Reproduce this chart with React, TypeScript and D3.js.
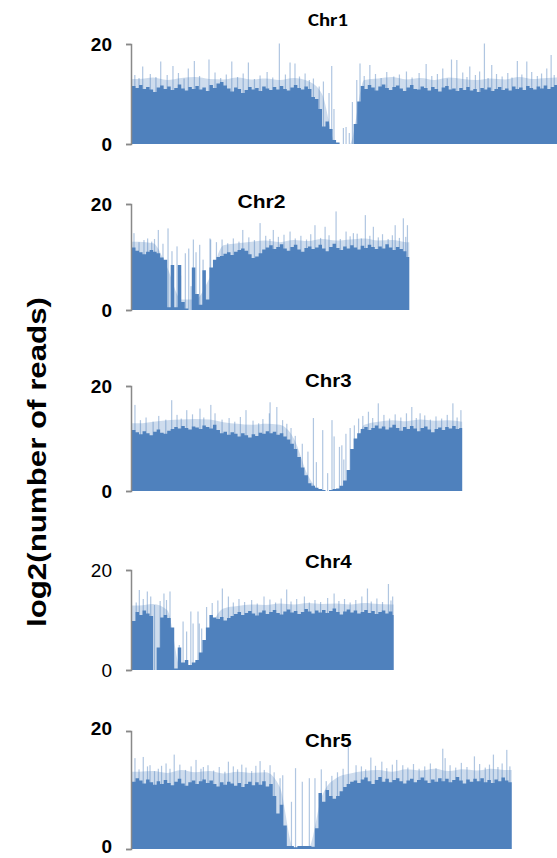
import React, { useEffect, useRef } from "react";
import * as d3 from "d3";

// bin size of the read-count profile, in Mb
const binMb = 0.25;
// bin size of the light upper envelope, in Mb
const envMb = 1;
const chromNames = ["Chr1", "Chr2", "Chr3", "Chr4", "Chr5"];
const chromLengths = [30.43, 19.7, 23.46, 18.59, 26.98];
const yTicks = [0, 20];
const yTitle = "log2(number of reads)";

// log2(reads) per 0.25 Mb bin
const chr1Reads = [
  11.6, 11.2, 11.8, 11.0, 11.4, 10.9, 10.4, 11.3, 11.7, 11.0, 11.5, 10.8, 11.2, 11.9, 11.1, 10.7, 11.4, 11.0, 11.6, 10.9,
  11.3, 10.6, 11.8, 11.2, 12.1, 12.4, 11.7, 11.1, 10.5, 11.3, 11.0, 10.2, 10.8, 11.4, 10.9, 11.2, 10.6, 11.5, 11.1, 10.8,
  11.4, 10.9, 11.6, 11.0, 10.7, 11.3, 11.8, 11.2, 10.9, 11.5, 11.0,
  9.4, 9.0, 7.0, 3.5, 4.5, 3.0, 0.8, 0.3, 0, 0, 0, 0, 4.0, 8.5,
  11.6, 11.0, 11.8, 11.3, 10.7, 11.5, 11.9, 11.2, 10.8, 11.4, 11.7, 11.1, 10.6, 11.3, 11.8, 11.0, 10.9, 11.5, 11.2, 10.7,
  11.4, 11.0, 10.5, 11.3, 11.6, 10.9, 11.1, 10.6, 11.2, 10.8, 11.4, 10.7, 11.0, 10.4, 11.2, 10.9, 11.3, 10.6, 11.0, 11.4,
  10.8, 11.1, 10.7, 11.5, 11.0, 11.3, 10.8, 11.6, 11.2, 10.9, 11.5, 11.1, 11.7, 11.0, 11.4, 11.8, 11.2,
];
const chr2Reads = [
  11.8, 11.2, 10.9, 10.5, 11.0, 11.3, 11.0, 10.7, 9.9, 9.5, 0.5, 8.5, 0.5, 8.5, 1.5, 0.3, 0, 8.0, 3.0, 1.0,
  7.5, 2.0, 8.0, 9.5, 10.0,
  10.2, 10.6, 10.9, 10.4, 11.0, 11.3, 11.6, 11.2, 10.5, 9.8, 10.1, 10.7, 11.4,
  11.8, 12.2, 11.5, 11.9, 12.4, 11.6, 11.2, 11.9, 12.3, 11.4, 11.0, 11.7, 12.0,
  11.5, 11.8, 12.3, 11.6, 11.1, 11.9, 12.5, 11.7, 11.3, 12.0, 11.6, 12.2, 11.8, 11.4, 12.1,
  11.7, 12.3, 11.9, 11.5, 12.0, 11.6, 12.4, 11.8, 11.3, 11.9, 11.5, 11.1, 10.0,
];
const chr3Reads = [
  11.6, 11.2, 10.8, 11.4, 11.0, 10.6, 11.3, 11.7, 11.1, 10.9, 11.5, 11.8,
  12.2, 11.9, 12.4, 12.0, 11.7, 12.3, 12.1, 11.8, 12.5, 12.2, 11.9, 12.6,
  11.6, 11.0, 11.3, 10.7, 11.2, 10.9, 10.4, 11.0, 10.6, 10.2, 10.8, 10.5, 11.1, 10.9, 11.4, 11.0,
  11.3, 10.7, 11.0, 10.4, 9.8, 9.0,
  8.0, 6.5, 4.5, 3.0, 1.5, 1.0, 0.6, 0.4, 0.2, 0, 0.2, 0.4, 0.5, 1.0, 2.0, 4.0, 8.0, 10.0, 11.0,
  11.8, 12.2, 11.6, 12.0, 12.5, 11.9, 12.3, 11.7, 12.1, 12.6, 12.0, 11.5, 12.2, 11.8, 12.4, 11.9, 11.4, 12.0, 12.3, 11.7,
  11.2, 11.8, 12.1, 11.6, 12.2, 11.9, 12.4, 11.8, 12.0,
];
const chr4Reads = [
  9.8, 11.6, 11.0, 11.9, 11.3, 10.8, 0, 4.5, 10.5, 11.0, 10.4, 8.5, 0.3, 4.5, 1.5, 2.0, 1.0, 1.5, 2.0, 3.5,
  6.0, 8.5, 11.0, 10.5,
  10.2, 10.6, 9.9, 10.4, 10.8, 11.2, 11.6, 11.0, 11.4, 11.8, 11.3, 10.9, 11.5, 11.9, 11.2, 11.6, 12.0, 11.4, 11.1, 11.7,
  12.1, 11.5, 11.8, 11.2, 11.6, 12.2, 11.7, 11.3, 11.9, 11.5, 12.0, 11.4, 11.8, 12.3, 11.6, 11.1, 11.7, 12.1, 11.5, 11.9,
  11.3, 11.6, 12.0, 11.4, 11.8, 11.2, 11.6, 11.9, 11.3, 11.7, 11.0,
];
const chr5Reads = [
  11.4, 12.0, 11.6, 11.1, 11.8, 11.3, 10.9, 11.5, 11.0, 11.7, 11.2, 10.8, 11.4, 11.9, 11.1, 10.7, 11.3, 11.6, 11.0, 11.5,
  11.8, 11.2, 11.6, 11.0, 10.6, 11.3, 10.9, 11.4, 11.1, 10.7, 11.2, 10.5, 11.0, 11.4, 10.8, 11.3, 10.9, 11.5, 10.6, 11.0,
  9.0, 6.0, 7.5, 4.0, 0.5, 0.5, 0.3, 0.5, 0.5, 0.5, 0.5, 0.4, 3.5, 9.5, 8.0, 10.0, 9.0, 8.5, 9.0, 9.8, 10.5, 11.0, 11.4,
  11.6, 11.2, 11.8, 12.1, 11.5, 11.0, 11.7, 12.2, 11.4, 11.9, 11.3, 11.7, 12.0, 11.5, 11.1, 11.6, 11.9, 11.3, 11.7, 12.1,
  11.6, 11.2, 11.8, 11.4, 12.0, 11.5, 11.9, 11.3, 11.7, 12.2, 11.6, 11.1, 11.8, 11.4, 11.9, 11.5, 12.0, 11.3, 11.7, 11.2,
  11.8, 11.5, 12.1, 11.6, 11.3,
];

// upper edge of the light fringe per 1 Mb bin
const chr1Upper = [
  13.0, 13.3, 12.8, 13.2, 13.4, 13.0, 12.9, 13.3, 12.9, 13.1, 12.8, 13.2, 12.6, 10.0, 0, 0,
  12.8, 13.1, 13.4, 12.9, 13.2, 12.8, 13.3, 13.0, 12.8, 13.1, 12.9, 13.4, 13.0, 13.2, 13.3,
];
const chr2Upper = [12.9, 12.6, 8.0, 2.0, 2.0, 6.0, 12.2, 12.6, 12.9, 13.1, 12.8, 13.2, 13.0, 13.4, 13.1, 13.3, 13.5, 13.1, 13.2, 12.8];
const chr3Upper = [
  12.9, 13.2, 13.5, 13.6, 13.7, 13.6, 13.1, 12.8, 12.6, 12.8, 12.6, 10.0, 3.0, 0, 0, 3.0,
  12.6, 13.2, 13.5, 13.3, 13.6, 13.4, 13.5, 13.2,
];
const chr4Upper = [12.9, 13.2, 12.0, 0, 0, 8.0, 12.3, 12.8, 13.1, 13.0, 13.3, 13.1, 13.4, 13.2, 13.3, 13.1, 13.4, 13.2, 13.1];
const chr5Upper = [
  13.1, 13.2, 12.9, 13.4, 13.0, 13.2, 12.8, 13.1, 12.9, 13.0, 10.5, 0, 0, 9.0, 12.0, 12.8,
  13.2, 13.4, 13.1, 13.5, 13.3, 13.6, 13.2, 13.5, 13.3, 13.6, 13.4,
];

// single-position peaks above the bins: [Mb, log2 reads]
const chr1Spikes = [
  [0.2, 13.8], [0.76, 15.5], [2.04, 16.5], [2.91, 15.6], [4.0, 15.1], [4.43, 16.6], [5.47, 16.9], [7.09, 16.5],
  [8.27, 16.3], [10.47, 20.1], [11.23, 16.3], [11.58, 16.1], [12.89, 13.1], [14.19, 15.6], [15.02, 3.2], [15.21, 3.4],
  [15.44, 2.2], [15.66, 8.4], [15.97, 12.8], [16.2, 16.1], [16.9, 15.8], [19.5, 14.5], [20.9, 16], [22.08, 15.1],
  [22.7, 16.9], [23.08, 16.8], [24.0, 15.5], [25.04, 20.1], [25.56, 15.8], [27.38, 16.6], [28.05, 16.5], [29.47, 15.1],
  [29.78, 17.8], [0.5, 13.2], [1.3, 14.0], [1.7, 13.4], [2.5, 13.8], [3.3, 14.2], [3.7, 13.1], [4.8, 13.6],
  [5.9, 14.3], [6.3, 13.2], [6.7, 13.9], [7.5, 13.4], [7.9, 14.1], [8.7, 13.0], [9.1, 13.7], [9.6, 14.4],
  [10.0, 13.3], [10.9, 13.9], [11.9, 13.5], [12.3, 14.1], [12.6, 12.8], [13.3, 11.5], [13.6, 12.5], [14.0, 10.2],
  [14.35, 7.0], [16.5, 13.6], [17.3, 14.0], [17.7, 13.2], [18.1, 14.4], [18.6, 13.5], [19.0, 13.9], [19.9, 13.3],
  [20.4, 14.2], [21.3, 13.6], [21.7, 14.0], [22.4, 13.1], [23.5, 14.3], [23.8, 13.4], [24.4, 13.8], [24.7, 14.5],
  [25.3, 13.2], [25.9, 14.0], [26.3, 13.5], [26.7, 14.2], [27.0, 13.3], [27.7, 13.9], [28.4, 14.4], [28.8, 13.6],
  [29.1, 14.1], [30.0, 13.8], [30.3, 14.5],
];
const chr2Spikes = [
  [0.14, 14.5], [1.11, 13.5], [1.87, 15.1], [2.56, 15.4], [2.84, 11.1], [3.79, 10.7], [4.03, 11.6], [4.36, 13.3],
  [4.55, 10.9], [4.81, 12.3], [5.54, 13.5], [5.59, 13.3], [7.87, 15.1], [9.1, 16.4], [10.04, 15.1], [11.23, 14.8],
  [13.0, 16.0], [13.72, 15.7], [14.5, 18.6], [15.21, 14.8], [15.73, 14.5], [16.58, 17.9], [17.15, 15.7], [18.7, 16.0],
  [19.28, 17.3], [19.57, 16.0], [0.5, 12.8], [0.85, 13.2], [1.4, 12.9], [1.6, 13.4], [2.2, 12.5], [3.2, 12.0],
  [3.45, 6.5], [4.2, 4.5], [5.05, 9.5],
  [6.0, 12.8], [6.4, 13.3], [6.8, 12.6], [7.2, 13.5], [7.6, 12.9], [8.3, 13.7], [8.7, 13.2], [9.5, 14.0],
  [9.8, 13.4], [10.4, 13.8], [10.8, 14.2], [11.6, 13.5], [12.0, 14.0], [12.4, 13.3], [12.7, 14.3], [13.4, 13.6],
  [14.0, 14.1], [14.8, 13.4], [15.5, 13.9], [16.0, 14.4], [16.3, 13.5], [16.9, 14.0], [17.5, 13.7], [17.8, 14.3],
  [18.2, 13.4], [18.5, 14.1], [19.0, 13.6], [19.45, 13.8],
];
const chr3Spikes = [
  [0.21, 16.4], [2.82, 17.3], [3.89, 15.4], [4.83, 15.7], [5.6, 16.4], [8.1, 15.4], [9.76, 14.8], [9.81, 16.9],
  [10.29, 16.0], [12.89, 13.9], [13.55, 11.6], [14.21, 13.5], [14.36, 10.4], [14.74, 8.4], [14.91, 8.7], [15.2, 10.9],
  [15.8, 12.5], [16.8, 15.1], [17.5, 16.7], [19.88, 16.0], [20.47, 14.8], [22.8, 16.7], [23.37, 15.4],
  [0.6, 13.5], [1.0, 14.0], [1.5, 13.2], [1.9, 14.3], [2.4, 13.6], [3.2, 14.5], [3.5, 13.8], [4.3, 14.6],
  [5.1, 14.0], [5.9, 14.8], [6.4, 13.6], [6.9, 13.9], [7.3, 13.2], [7.7, 14.1], [8.6, 13.4], [9.0, 12.9],
  [9.3, 13.7], [10.7, 13.5], [11.0, 12.8], [11.3, 12.0], [11.6, 10.5], [12.1, 9.0], [12.5, 7.5], [13.1, 5.5],
  [13.9, 3.4], [15.5, 12.0], [15.05, 6.0],
  [16.1, 13.8], [16.4, 14.3], [17.1, 13.9], [17.9, 14.5], [18.3, 13.8], [18.7, 14.6], [19.1, 14.0], [19.5, 14.8],
  [20.2, 13.9], [20.8, 14.4], [21.2, 13.6], [21.6, 14.2], [22.0, 13.8], [22.4, 14.5], [23.1, 14.0],
];
const chr4Spikes = [
  [0.52, 16.0], [1.09, 15.7], [1.33, 14.7], [2.27, 15.3], [2.7, 15.7], [3.36, 5.0], [3.63, 9.7], [3.88, 7.7],
  [4.18, 11.7], [4.34, 9.3], [4.69, 11.7], [4.78, 9.3], [4.95, 8.3], [6.42, 16.3], [6.85, 14.7], [9.38, 14.7],
  [10.99, 16.1], [12.25, 14.7], [14.36, 15.3], [16.33, 14.7], [16.73, 16.3], [18.22, 17.2], [18.52, 14.7],
  [0.3, 13.5], [0.8, 14.2], [1.6, 13.0], [2.0, 13.8], [2.45, 14.0], [5.3, 12.6], [5.7, 13.4], [6.1, 13.9],
  [7.2, 13.5], [7.6, 14.2], [8.0, 13.6], [8.5, 14.0], [8.9, 13.3], [9.8, 14.1], [10.2, 13.5], [10.6, 14.3],
  [11.3, 13.7], [11.7, 14.2], [12.6, 13.5], [13.0, 14.0], [13.4, 13.6], [13.9, 14.4], [14.7, 13.8], [15.1, 14.2],
  [15.5, 13.5], [15.9, 14.0], [17.0, 13.7], [17.4, 14.3], [17.8, 13.6], [18.4, 13.9],
];
const chr5Spikes = [
  [0.21, 15.4], [0.8, 15.6], [1.28, 14.2], [1.87, 13.6], [2.42, 14.5], [3.0, 16.0], [4.55, 15.1], [5.07, 13.9],
  [6.85, 14.8], [7.8, 14.3], [9.1, 14.9], [9.81, 14.2], [10.52, 12.0], [10.71, 12.5], [11.33, 8.0], [11.62, 13.7],
  [12.1, 11.4], [12.6, 12.0], [13.0, 12.0], [13.45, 13.5], [15.37, 17.3], [15.92, 14.2], [16.97, 15.5], [17.75, 14.8],
  [18.81, 15.1], [19.24, 14.2], [22.08, 17.0], [22.25, 15.4], [24.33, 15.7], [25.68, 16.0], [26.63, 16.8],
  [0.5, 13.5], [1.1, 14.0], [1.6, 13.2], [2.1, 14.1], [2.7, 13.6], [3.4, 14.3], [3.8, 13.4], [4.2, 14.0],
  [4.9, 13.6], [5.4, 14.2], [5.8, 13.3], [6.2, 13.9], [6.6, 13.1], [7.2, 14.0], [7.5, 13.5], [8.1, 13.8],
  [8.5, 13.2], [8.8, 14.1], [9.4, 13.4], [10.1, 13.0], [13.8, 11.5], [14.2, 12.4], [14.6, 13.0], [15.0, 13.6],
  [16.3, 14.0], [16.6, 13.5], [17.3, 14.1], [18.1, 13.7], [18.5, 14.3], [19.6, 13.8], [20.0, 14.4], [20.4, 13.6],
  [20.8, 14.0], [21.2, 14.5], [21.6, 13.7], [22.6, 14.2], [23.0, 13.8], [23.4, 14.6], [23.8, 13.9], [24.7, 14.4],
  [25.1, 13.8], [25.4, 14.3], [26.0, 13.9], [26.3, 14.5], [26.85, 14.0],
];

const reads = [chr1Reads, chr2Reads, chr3Reads, chr4Reads, chr5Reads];
const uppers = [chr1Upper, chr2Upper, chr3Upper, chr4Upper, chr5Upper];
const spikes = [chr1Spikes, chr2Spikes, chr3Spikes, chr4Spikes, chr5Spikes];

// layout of each panel (pixel positions)
const panels = [
  { y0: 144, y20: 44, titleX: 328, titleY: 26, titleW: 40, boldTicks: true, labelDy: "0.32em", titleFont: "Carlito, Lato, sans-serif" },
  { y0: 310, y20: 204, titleX: 261.5, titleY: 208, titleW: 48, boldTicks: true, labelDy: "0.32em", titleFont: "'Liberation Sans', Arial, sans-serif" },
  { y0: 491, y20: 386, titleX: 328.3, titleY: 387, titleW: 46.5, boldTicks: true, labelDy: "0.32em", titleFont: "'Liberation Sans', Arial, sans-serif" },
  { y0: 670, y20: 570, titleX: 328.3, titleY: 567.5, titleW: 46.5, boldTicks: false, labelDy: "0.32em", titleFont: "'Liberation Sans', Arial, sans-serif" },
  { y0: 849, y20: 731, titleX: 328.3, titleY: 746.5, titleW: 46.5, boldTicks: true, labelDy: "0.2em", titleFont: "'Liberation Sans', Arial, sans-serif" },
];

const W = 557;
const H = 858;
const barColor = "#4f81bd";
const axisColor = "#898989";
const font = "'Liberation Sans', Arial, Helvetica, sans-serif";

type Pt = { p: number; v: number };

export default function App() {
  const ref = useRef<SVGSVGElement>(null);

  useEffect(() => {
    const svg = d3.select(ref.current);
    svg.selectAll("*").remove();

    // same Mb -> px scale for all chromosomes
    const x = d3.scaleLinear().domain([0, 27.0]).range([132, 512]);

    panels.forEach((p, k) => {
      const len = chromLengths[k];
      const y = d3.scaleLinear().domain([0, 20]).range([p.y0, p.y20]);
      const g = svg.append("g");

      // light fringe
      const up = uppers[k];
      const upPts: Pt[] = [{ p: 0, v: up[0] }]
        .concat(up.map((v, i) => ({ p: Math.min((i + 0.5) * envMb, len), v })))
        .concat([{ p: len, v: up[up.length - 1] }]);
      const envGen = d3
        .area<Pt>()
        .x((d) => x(d.p))
        .y0(y(0))
        .y1((d) => y(d.v))
        .curve(d3.curveMonotoneX);
      g.append("path").attr("d", envGen(upPts)).attr("fill", barColor).attr("fill-opacity", 0.28);

      g.selectAll("rect.spike")
        .data(spikes[k])
        .join("rect")
        .attr("class", "spike")
        .attr("x", (d) => x(d[0]) - 0.6)
        .attr("width", 1.2)
        .attr("y", (d) => y(d[1]))
        .attr("height", (d) => y(0) - y(d[1]))
        .attr("fill", barColor)
        .attr("fill-opacity", 0.45);

      const pts: Pt[] = reads[k].map((v, i) => ({ p: i * binMb, v }));
      pts.push({ p: len, v: reads[k][reads[k].length - 1] });
      const areaGen = d3
        .area<Pt>()
        .x((d) => x(Math.min(d.p, len)))
        .y0(y(0))
        .y1((d) => y(d.v))
        .curve(d3.curveStepAfter);
      g.append("path").attr("d", areaGen(pts)).attr("fill", barColor);

      const yAxis = d3.axisLeft(y).tickValues(yTicks).tickSize(5).tickSizeOuter(5).tickPadding(14).tickFormat(d3.format("d"));
      const ax = g.append("g").attr("transform", "translate(131,0)").call(yAxis);
      ax.selectAll("path, line").attr("stroke", axisColor).attr("stroke-width", 1.5);
      ax.selectAll("text")
        .attr("font-family", font)
        .attr("font-size", 19)
        .attr("dy", p.labelDy)
        .attr("font-weight", p.boldTicks ? 700 : 400)
        .attr("fill", "#000");

      g.append("text")
        .attr("x", p.titleX)
        .attr("y", p.titleY)
        .attr("text-anchor", "middle")
        .attr("font-family", p.titleFont)
        .attr("font-weight", 700)
        .attr("font-size", 19)
        .attr("textLength", p.titleW)
        .attr("lengthAdjust", "spacingAndGlyphs")
        .text(chromNames[k]);
    });

    svg
      .append("text")
      .attr("transform", "translate(46,462) rotate(-90)")
      .attr("text-anchor", "middle")
      .attr("font-family", font)
      .attr("font-weight", 700)
      .attr("font-size", 25)
      .attr("textLength", 330)
      .attr("lengthAdjust", "spacingAndGlyphs")
      .text(yTitle);
  }, []);

  return (
    <svg
      ref={ref}
      width={W}
      height={H}
      style={{ position: "absolute", left: 0, top: 0, background: "#fff" }}
    />
  );
}
